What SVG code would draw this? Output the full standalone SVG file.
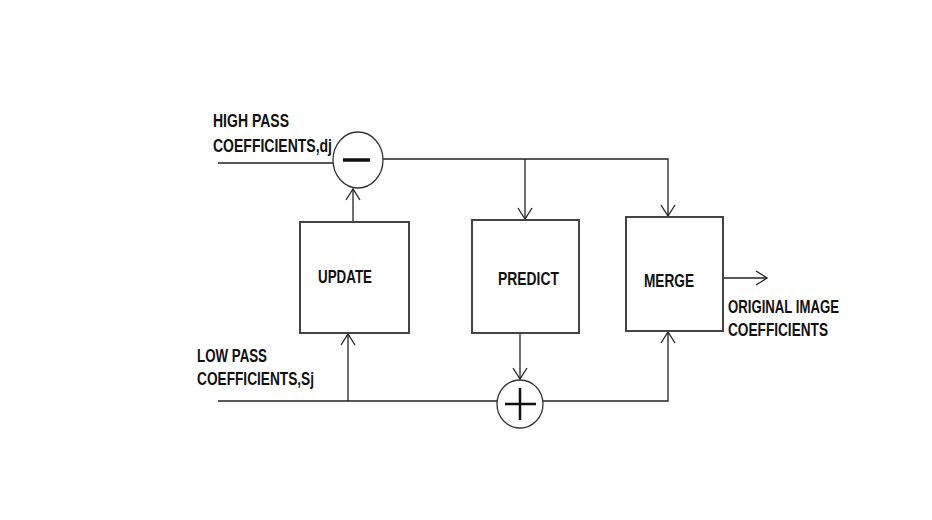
<svg xmlns="http://www.w3.org/2000/svg" width="932" height="520" viewBox="0 0 932 520">
<style>
.box{fill:#fff;stroke:#444;stroke-width:2}
.ln{fill:none;stroke:#222;stroke-width:1.3}
.t{font-family:"Liberation Sans",Arial,sans-serif;font-weight:bold;font-size:17.5px;fill:#111}
.op{fill:#fff;stroke:#333;stroke-width:1.3}
</style>
<defs>
<marker id="ah" markerWidth="14" markerHeight="16" refX="12" refY="8" orient="auto" markerUnits="userSpaceOnUse">
<polyline points="1,1 12,8 1,15" fill="none" stroke="#222" stroke-width="1.3"/>
</marker>
</defs>
<rect width="932" height="520" fill="#fff"/>
<g id="connectors">
<line class="ln" x1="218" y1="163" x2="333" y2="163"/>
<polyline class="ln" points="383,159 668,159 668,216" marker-end="url(#ah)"/>
<line class="ln" x1="525" y1="159" x2="525" y2="219" marker-end="url(#ah)"/>
<line class="ln" x1="353" y1="222" x2="353" y2="189" marker-end="url(#ah)"/>
<line class="ln" x1="218" y1="401" x2="497" y2="401"/>
<line class="ln" x1="348" y1="401" x2="348" y2="334" marker-end="url(#ah)"/>
<line class="ln" x1="520" y1="333" x2="520" y2="379" marker-end="url(#ah)"/>
<polyline class="ln" points="543,401 668,401 668,332" marker-end="url(#ah)"/>
<line class="ln" x1="723" y1="278" x2="767" y2="278" marker-end="url(#ah)"/>
</g>
<g id="minus">
<ellipse class="op" cx="358" cy="160" rx="25" ry="28"/>
<line x1="343" y1="160" x2="370" y2="160" stroke="#111" stroke-width="3.5"/>
</g>
<g id="plus">
<ellipse class="op" cx="520" cy="404" rx="23" ry="24"/>
<line x1="505" y1="404" x2="536" y2="404" stroke="#111" stroke-width="2.5"/>
<line x1="520" y1="388" x2="520" y2="420" stroke="#111" stroke-width="2.5"/>
</g>
<g id="update">
<rect class="box" x="300" y="222" width="109" height="111"/>
<text class="t" x="318" y="283" textLength="54" lengthAdjust="spacingAndGlyphs">UPDATE</text>
</g>
<g id="predict">
<rect class="box" x="472" y="220" width="107" height="113"/>
<text class="t" x="498" y="285" textLength="61" lengthAdjust="spacingAndGlyphs">PREDICT</text>
</g>
<g id="merge">
<rect class="box" x="626" y="217" width="97" height="114"/>
<text class="t" x="644" y="287" textLength="50" lengthAdjust="spacingAndGlyphs">MERGE</text>
</g>
<g id="labels">
<text class="t" x="213" y="127" textLength="76" lengthAdjust="spacingAndGlyphs">HIGH PASS</text>
<text class="t" x="213" y="152" textLength="119" lengthAdjust="spacingAndGlyphs">COEFFICIENTS,dj</text>
<text class="t" x="197" y="362" textLength="70" lengthAdjust="spacingAndGlyphs">LOW PASS</text>
<text class="t" x="197" y="385" textLength="117" lengthAdjust="spacingAndGlyphs">COEFFICIENTS,Sj</text>
<text class="t" x="728" y="313" textLength="111" lengthAdjust="spacingAndGlyphs">ORIGINAL IMAGE</text>
<text class="t" x="728" y="336" textLength="100" lengthAdjust="spacingAndGlyphs">COEFFICIENTS</text>
</g>
</svg>
